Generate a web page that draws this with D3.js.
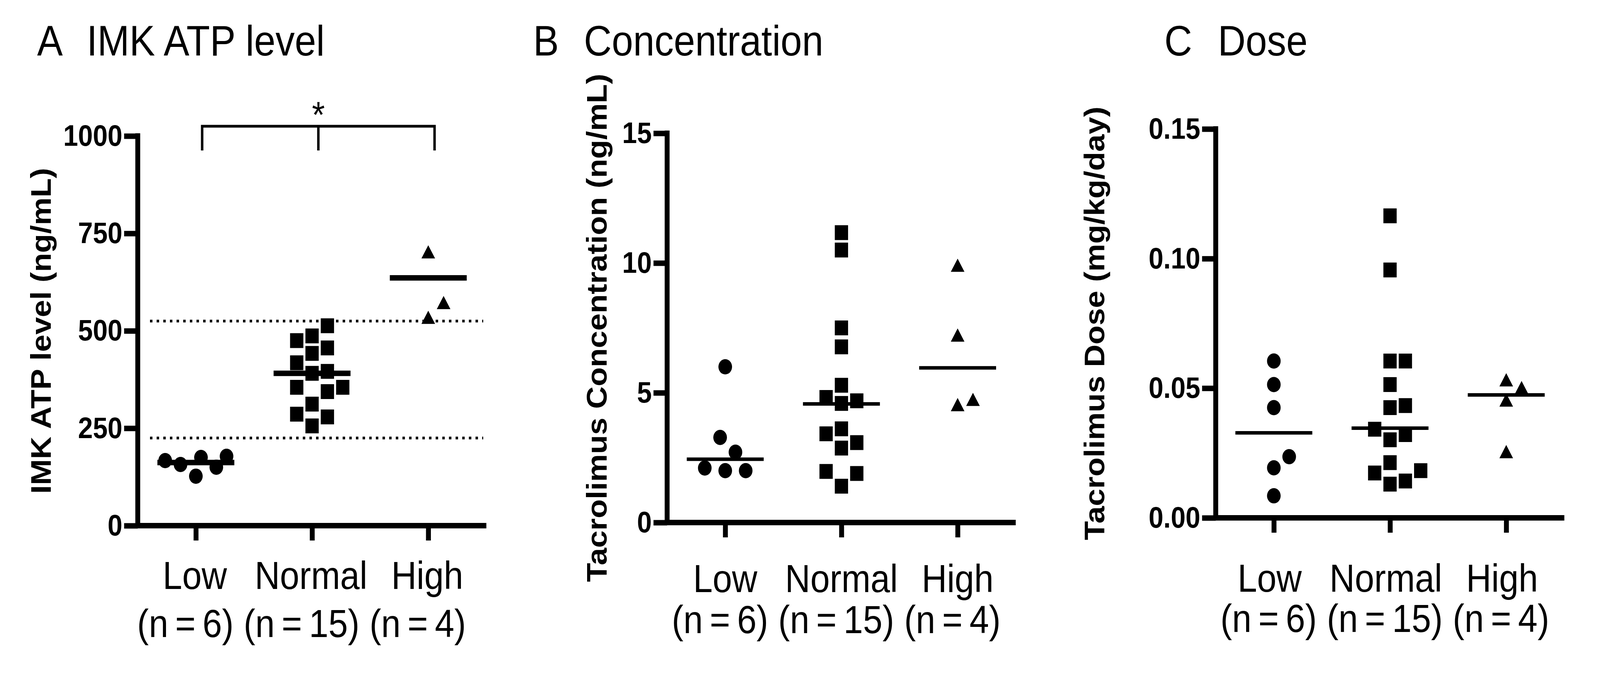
<!DOCTYPE html>
<meta charset="utf-8">
<script src="https://d3js.org/d3.v7.min.js"></script>
<style>
html, body { margin: 0; padding: 0; background: white; overflow: hidden; }
svg { display: block; background: white; font-family: "Liberation Sans", Arial, sans-serif; }
</style>
<body>
<div id="chart"></div>
<script>
// groups shared by all three panels
const groups = ["Low", "Normal", "High"];
const groupN = ["(n = 6)", "(n = 15)", "(n = 4)"];

// A: IMK ATP level (ng/mL)
const atpLow = [157, 178, 127, 150, 175, 167];
const atpNormal = [513, 487, 475, 456, 442, 418, 391, 396, 355, 344, 355, 312, 286, 279, 256];
const atpHigh = [697, 567, 529];
const atpMedians = [162, 391, 636];
const atpTicks = [0, 250, 500, 750, 1000];
const atpRefLines = [225, 525];

// B: tacrolimus concentration (ng/mL)
const concLow = [6.0, 3.28, 2.71, 2.1, 2.0, 2.0];
const concNormal = [11.17, 10.5, 7.5, 6.77, 5.29, 4.82, 4.69, 4.59, 3.61, 3.42, 3.08, 2.87, 1.97, 1.89, 1.4];
const concHigh = [9.83, 7.14, 4.66, 4.46];
const concMedians = [2.44, 4.57, 5.96];
const concTicks = [0, 5, 10, 15];

// C: tacrolimus dose (mg/kg/day)
const doseLow = [0.0605, 0.0514, 0.0425, 0.0236, 0.0193, 0.0085];
const doseNormal = [0.1165, 0.0956, 0.0605, 0.0605, 0.0514, 0.0433, 0.0425, 0.0342, 0.0321, 0.0301, 0.0213, 0.0182, 0.0173, 0.0142, 0.013];
const doseHigh = [0.0524, 0.0494, 0.0446, 0.0247];
const doseMedians = [0.0328, 0.0346, 0.0474];
const doseTicks = [0, 0.05, 0.10, 0.15];

const panelLetters = ["A", "B", "C"];
const panelTitles = ["IMK ATP level", "Concentration", "Dose"];
const yTitles = ["IMK ATP level (ng/mL)", "Tacrolimus Concentration (ng/mL)", "Tacrolimus Dose (mg/kg/day)"];

const W = 4576, H = 1722;
const FONT = "'Liberation Sans', Arial, sans-serif";

const panels = [
  {values: [atpLow, atpNormal, atpHigh], medians: atpMedians, domain: [0, 1000], ticks: atpTicks, fmt: d3.format("d")},
  {values: [concLow, concNormal, concHigh], medians: concMedians, domain: [0, 15], ticks: concTicks, fmt: d3.format("d")},
  {values: [doseLow, doseNormal, doseHigh], medians: doseMedians, domain: [0, 0.15], ticks: doseTicks, fmt: d3.format(".2f")}
];

// where each panel sits on the page
const layout = [
  {left: 394, top: 348, bottom: 1345, width: 997, yLabelX: 145, letterX: 106, titleX: 248, medW: 14, lab1: 1507, lab2: 1630, dx1: -3, dx2: -30},
  {left: 1908, top: 341, bottom: 1337, width: 997, yLabelX: 1735, letterX: 1525, titleX: 1670, medW: 9, lab1: 1515, lab2: 1620, dx1: 0, dx2: -15},
  {left: 3477, top: 330, bottom: 1325, width: 997, yLabelX: 3158, letterX: 3330, titleX: 3483, medW: 9, lab1: 1514, lab2: 1617, dx1: -12, dx2: -15}
];

const symbolTypes = [d3.symbolCircle, d3.symbolSquare, d3.symbolTriangle];
const symbolSizes = [1195, 1444, 660];

// drawn in 4576x1722 units and stretched to fill the window
var svg = d3.select("#chart")
  .append("svg")
    .attr("viewBox", "0 0 " + W + " " + H)
    .attr("preserveAspectRatio", "none")
    .style("width", "100vw")
    .style("height", "100vh");

// simple beeswarm so points with close values sit side by side
function swarm(vals, cx, yScale, r, round) {
  const minD = round ? r * 2.6 : r * 2.2;
  const step = r * 0.75;
  const maxOff = 90;
  const placed = [];
  const out = new Array(vals.length);
  const order = d3.range(vals.length).sort((a, b) => d3.ascending(vals[a], vals[b]));
  order.forEach(i => {
    const py = yScale(vals[i]);
    let best = 0, bestScore = -Infinity;
    for (let k = 0; ; k++) {
      const off = (k % 2 ? 1 : -1) * Math.ceil(k / 2) * step;
      if (Math.abs(off) > maxOff) break;
      let score = Infinity;
      placed.forEach(p => {
        const dx = Math.abs(p.x - off), dy = Math.abs(p.y - py);
        const dist = round ? Math.hypot(dx, dy) : Math.max(dx, dy);
        score = Math.min(score, dist);
      });
      if (score >= minD) { best = off; break; }
      if (score > bestScore) { bestScore = score; best = off; }
    }
    placed.push({x: best, y: py});
    out[i] = {value: vals[i], x: cx + best, y: py};
  });
  return out;
}

panels.forEach(function(P, pi) {
  const L = layout[pi];
  const g = svg.append("g");

  var x = d3.scalePoint()
    .domain(groups)
    .range([L.left, L.left + L.width])
    .padding(0.5);

  var y = d3.scaleLinear()
    .domain(P.domain)
    .range([L.bottom, L.top]);

  // titles
  g.append("text")
    .attr("x", L.letterX).attr("y", 142)
    .attr("font-size", 110).attr("font-family", FONT)
    .text(panelLetters[pi]);
  g.append("text")
    .attr("x", L.titleX).attr("y", 142)
    .attr("font-size", 110).attr("font-family", FONT)
    .text(panelTitles[pi]);

  // y axis title
  g.append("text")
    .attr("transform", "translate(" + L.yLabelX + "," + ((L.top + L.bottom) / 2) + ") rotate(-90)")
    .attr("text-anchor", "middle")
    .attr("font-size", 80).attr("font-weight", "bold").attr("font-family", FONT)
    .text(yTitles[pi]);

  // Y axis
  var gy = g.append("g")
    .attr("transform", "translate(" + L.left + ",0)")
    .call(d3.axisLeft(y).tickValues(P.ticks).tickFormat(P.fmt).tickSize(39).tickSizeOuter(0).tickPadding(5));
  gy.select(".domain").remove();
  gy.selectAll(".tick line").attr("stroke", "#000").attr("stroke-width", 14);
  gy.selectAll(".tick text")
    .attr("fill", "#000")
    .attr("font-size", 76).attr("font-weight", "bold").attr("font-family", FONT);
  gy.append("line")
    .attr("x1", 0).attr("x2", 0)
    .attr("y1", L.top - 7).attr("y2", L.bottom + 7)
    .attr("stroke", "#000").attr("stroke-width", 14);

  // X axis
  var gx = g.append("g")
    .attr("transform", "translate(0," + L.bottom + ")")
    .call(d3.axisBottom(x).tickSize(38).tickSizeOuter(0).tickFormat(""));
  gx.select(".domain").remove();
  gx.selectAll(".tick line").attr("stroke", "#000").attr("stroke-width", 14);
  gx.append("line")
    .attr("x1", L.left).attr("x2", L.left + L.width)
    .attr("stroke", "#000").attr("stroke-width", 14);

  // category labels
  g.append("g").selectAll("text")
    .data(groups)
    .enter().append("text")
    .attr("x", d => x(d) + L.dx1).attr("y", L.lab1)
    .attr("text-anchor", "middle")
    .attr("font-size", 100).attr("font-family", FONT)
    .text(d => d);
  g.append("g").selectAll("text")
    .data(groupN)
    .enter().append("text")
    .attr("x", (d, i) => x(groups[i]) + L.dx2).attr("y", L.lab2)
    .attr("text-anchor", "middle")
    .attr("font-size", 100).attr("font-family", FONT)
    .attr("word-spacing", -8)
    .text(d => d);

  // reference range (panel A only)
  if (pi === 0) {
    g.append("g").selectAll("line")
      .data(atpRefLines)
      .enter().append("line")
      .attr("x1", L.left + 35).attr("x2", L.left + 988)
      .attr("y1", d => y(d)).attr("y2", d => y(d))
      .attr("stroke", "#000").attr("stroke-width", 7)
      .attr("stroke-dasharray", "7,12");

    // significance bracket
    const bx = groups.map(d => x(d) + 18);
    g.append("path")
      .attr("d", "M" + bx[0] + ",385V323H" + bx[2] + "V385M" + bx[1] + ",323V385")
      .attr("fill", "none").attr("stroke", "#000").attr("stroke-width", 7);
    g.append("text")
      .attr("x", bx[1]).attr("y", 326)
      .attr("text-anchor", "middle")
      .attr("font-size", 95).attr("font-family", FONT)
      .text("*");
  }

  // median lines
  g.append("g").selectAll("line")
    .data(P.medians)
    .enter().append("line")
    .attr("x1", (d, i) => x(groups[i]) - 110)
    .attr("x2", (d, i) => x(groups[i]) + 110)
    .attr("y1", d => y(d)).attr("y2", d => y(d))
    .attr("stroke", "#000").attr("stroke-width", L.medW);

  // points
  P.values.forEach(function(vals, gi) {
    const pts = swarm(vals, x(groups[gi]), y, 19.5, gi === 0);
    g.append("g").selectAll("path")
      .data(pts)
      .enter().append("path")
      .attr("transform", d => "translate(" + d.x + "," + d.y + ")")
      .attr("d", d3.symbol().type(symbolTypes[gi]).size(symbolSizes[gi]))
      .attr("fill", "#000");
  });
});
</script>
</body>
